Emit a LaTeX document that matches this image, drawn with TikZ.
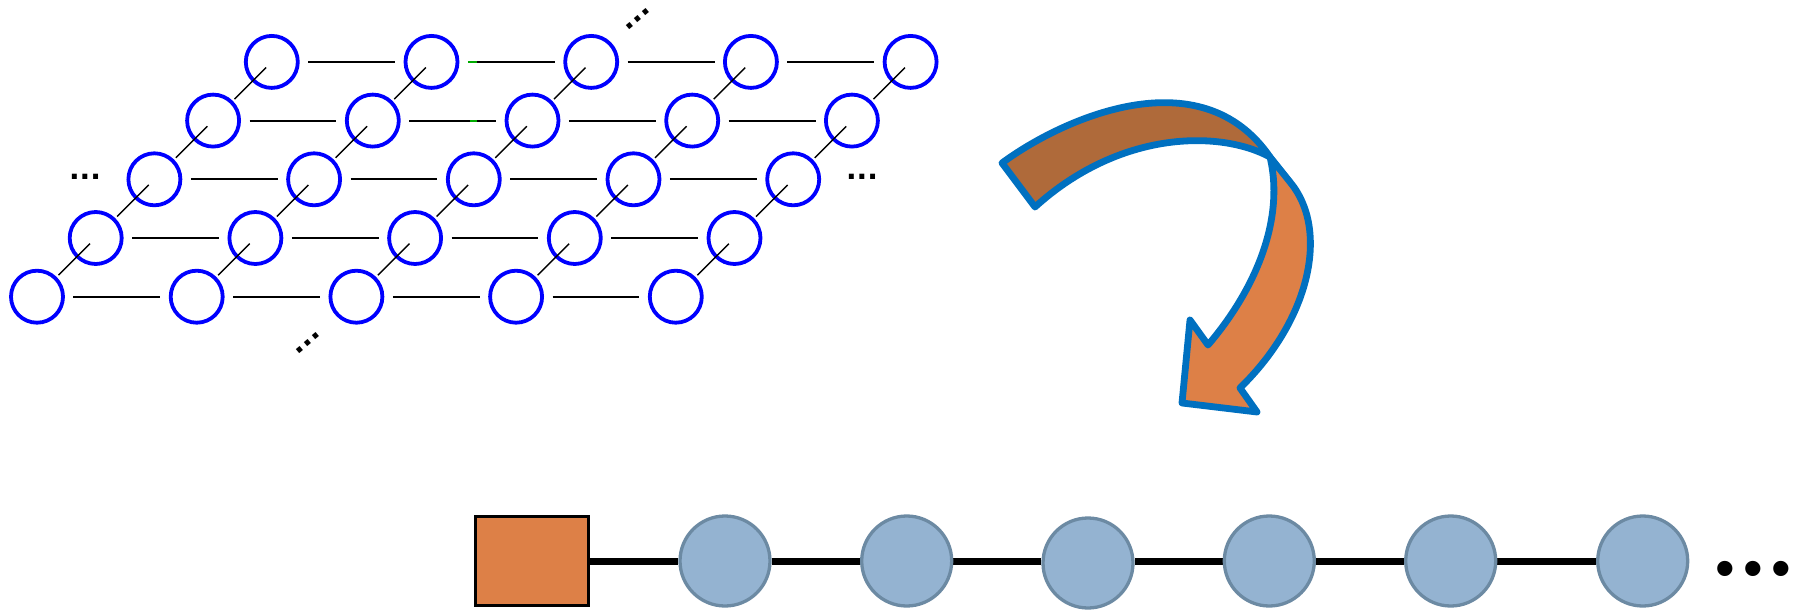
\documentclass[tikz,border=0pt]{standalone}
\usepackage{fontspec}
\newfontfamily\dotsfont{DejaVu Sans}
\newfontfamily\bulfont{Liberation Sans}
\usetikzlibrary{backgrounds}
\definecolor{latblue}{RGB}{0,0,255}
\definecolor{orangefill}{HTML}{DD8047}
\definecolor{brownfill}{HTML}{AF6A3A}
\definecolor{arrowblue}{HTML}{0070C0}
\definecolor{chainfill}{HTML}{94B3D1}
\definecolor{chainedge}{HTML}{6C8AA3}
\definecolor{greenbit}{RGB}{0,170,0}
\begin{document}
\begin{tikzpicture}[x=1pt,y=-1pt,
  site/.style={circle,draw=latblue,line width=3.8pt,inner sep=0pt,minimum size=52pt},
  hbond/.style={line width=2pt,shorten <=8.5pt,shorten >=8.5pt},
  dbond/.style={line width=1.4pt,shorten <=2.5pt,shorten >=8pt},
  ell/.style={font=\dotsfont\bfseries\fontsize{28}{28}\selectfont,inner sep=0pt},
  bigarrow/.style={draw=arrowblue,line width=6.8pt,line join=round},
  rectnode/.style={rectangle,draw=black,line width=3pt,fill=orangefill,minimum width=113pt,minimum height=89pt,inner sep=0pt},
  bead/.style={circle,draw=chainedge,line width=3.3pt,fill=chainfill,minimum size=90pt,inner sep=0pt},
  chainbond/.style={line width=7pt},
  bul/.style={font=\bulfont\fontsize{56}{56}\selectfont,inner sep=0pt}
]
\useasboundingbox (0,0) rectangle (1802,610);

% lattice
\foreach \r in {0,...,4}{
  \foreach \c in {0,...,4}{
    \node[site] (n-\r-\c) at ({37+58.7*\r+159.7*\c},{296.7-58.7*\r}) {};
  }
}
\foreach \r in {0,...,4}{
  \foreach \c/\d in {0/1,1/2,2/3,3/4}{
    \draw[hbond] (n-\r-\c) -- (n-\r-\d);
  }
}
\foreach \r/\s in {0/1,1/2,2/3,3/4}{
  \foreach \c in {0,...,4}{
    \draw[dbond] (n-\r-\c) -- (n-\s-\c.center);
  }
}
\draw[greenbit,line width=2pt] ([xshift=8.75pt]n-4-1.east) -- ([xshift=17.75pt]n-4-1.east);
\draw[greenbit,line width=2pt] ([xshift=69.5pt]n-3-1.east) -- ([xshift=76.5pt]n-3-1.east);

\node[ell] (eL) at (85,177) {...};
\node[ell] (eR) at (862,177) {...};
\node[ell,rotate=40] (eT) at (638,19) {...};
\node[ell,rotate=40] (eB) at (308,343) {...};

% curved arrow
\draw[bigarrow,fill=brownfill] (1002,163) .. controls (1060,120) and (1200,55) .. (1270,157)
  .. controls (1220,130) and (1120,130) .. (1035,207) -- cycle;
\draw[bigarrow,fill=orangefill] (1270,157) -- (1290,182) .. controls (1330,230) and (1310,320) .. (1240,388)
  -- (1257,412) -- (1182,403) -- (1190,320) -- (1208,345)
  .. controls (1255,290) and (1285,220) .. (1270,157) -- cycle;

% chain
\node[rectnode] (sq) at (532,561) {};
\node[bead] (b1) at (725,561) {};
\node[bead] (b2) at (906.7,561) {};
\node[bead] (b3) at (1088,563) {};
\node[bead] (b4) at (1269.3,561) {};
\node[bead] (b5) at (1450.7,561) {};
\node[bead] (b6) at (1642.7,561) {};
\begin{scope}[on background layer]
\draw[chainbond] (sq) -- (b1);
\draw[chainbond] (b1) -- (b2);
\draw[chainbond] (b2.east) -- (b2.east -| b3.west);
\draw[chainbond] (b4.west -| b3.east) -- (b4.west);
\draw[chainbond] (b4) -- (b5);
\draw[chainbond] (b5) -- (b6);
\end{scope}
\node[bul] (more) at (1753,574) {•\hspace{8.4pt}•\hspace{8.4pt}•};
\end{tikzpicture}
\end{document}
